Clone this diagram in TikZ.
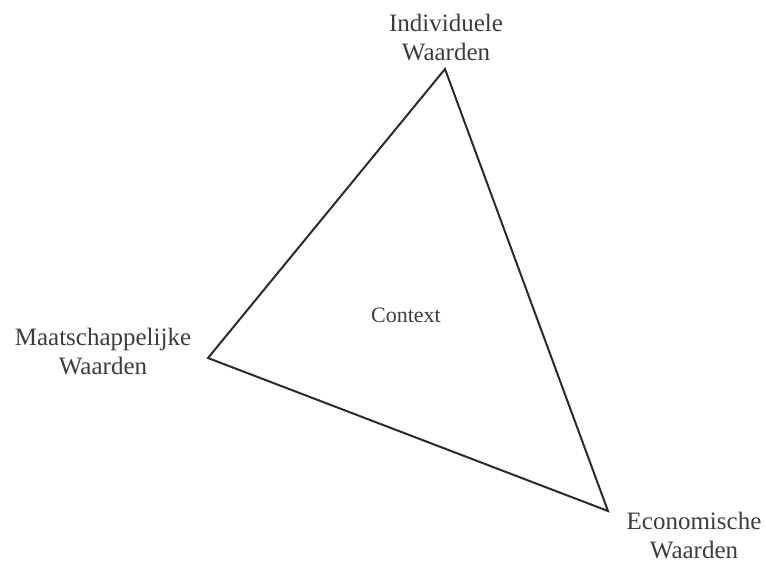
\documentclass[tikz,border=0pt]{standalone}
\usepackage{fontspec}
\setmainfont{Liberation Serif}
\definecolor{lijngrijs}{HTML}{2B2B2B}
\definecolor{tekstgrijs}{HTML}{3C3C3C}

\begin{document}
\begin{tikzpicture}[x=0.75pt, y=-0.75pt,
		waarde/.style={align=center, inner sep=0pt, text=tekstgrijs, font=\fontsize{18.75}{21.75}\selectfont}]
		\useasboundingbox (0,0) rectangle (766,565);

		\coordinate (top) at (445,69);
		\coordinate (links) at (208,358);
		\coordinate (onder) at (608,511);
		\draw[line width=1.5pt, lijngrijs, line join=miter] (top) -- (links) -- (onder) -- cycle;

		\node[waarde] (individueel) at (446,38) {Individuele\\Waarden};
		\node[waarde] (maatschappelijk) at (103,352) {Maatschappelijke\\Waarden};
		\node[waarde] (economisch) at (694,536) {Economische\\Waarden};
		\node[inner sep=0pt, text=tekstgrijs, font=\fontsize{16.5}{19}\selectfont] (context) at (406,315) {Context};
	\end{tikzpicture}
\end{document}
